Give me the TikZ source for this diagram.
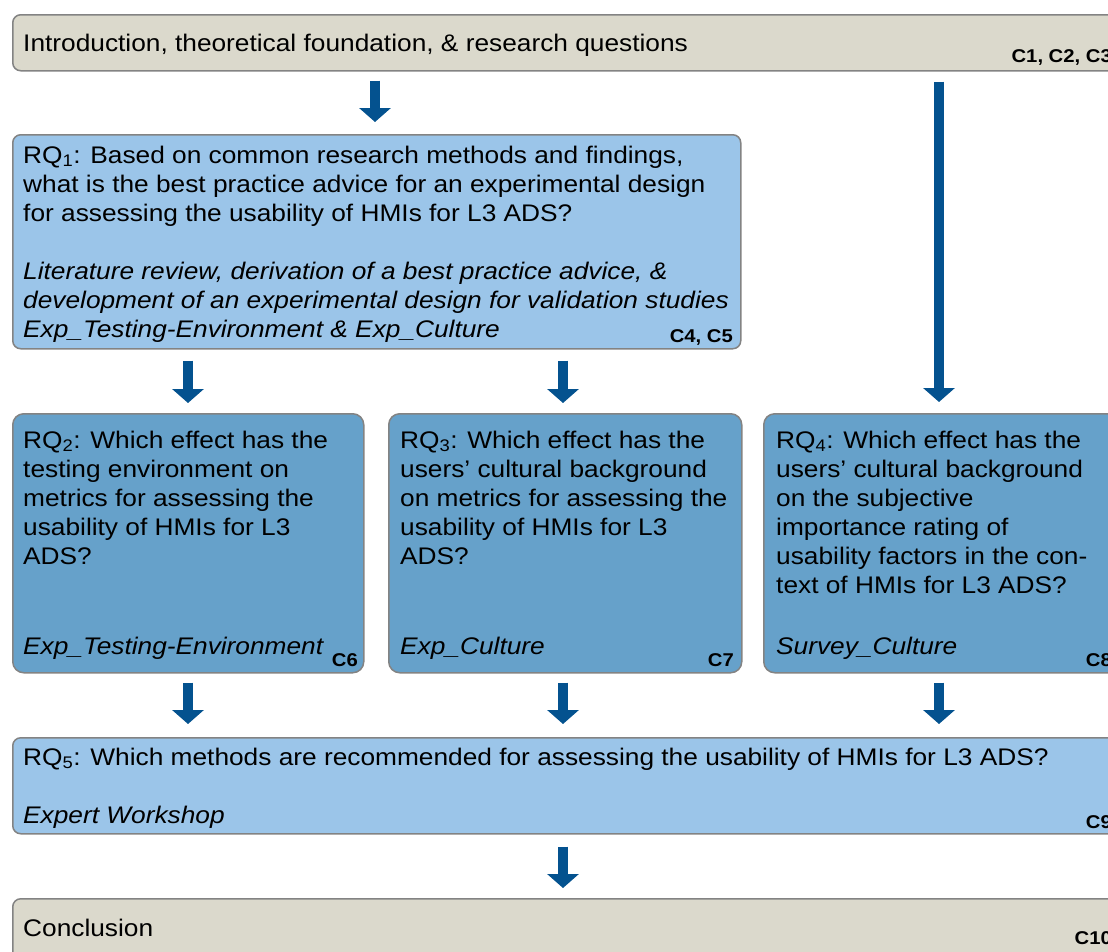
\documentclass[tikz,border=0pt]{standalone}
\usepackage{fontspec}
\setmainfont{Liberation Sans}[FakeStretch=1.095]
\usetikzlibrary{arrows.meta}
\definecolor{beige}{HTML}{DBD9CC}
\definecolor{lblue}{HTML}{9BC5E9}
\definecolor{dblue}{HTML}{66A1CA}
\definecolor{arrowblue}{HTML}{04528F}
\definecolor{edgegray}{HTML}{838383}
\newcommand\bodyfont{\fontsize{24}{29}\selectfont}
\newcommand\clabfont{\fontsize{18.5}{20}\selectfont\bfseries}
\newcommand\mylines[1]{\begin{tabular}[t]{@{}l@{}}#1\end{tabular}}
\tikzset{
  box/.style={draw=edgegray, line width=1.5pt, rounded corners=8pt, anchor=north west, inner sep=0pt},
  introbox/.style={box, fill=beige},
  lightbox/.style={box, fill=lblue},
  darkbox/.style={box, fill=dblue, rounded corners=11pt},
  txt/.style={anchor=base west, inner sep=0pt, font=\bodyfont},
  clab/.style={anchor=base east, inner sep=0pt, font=\clabfont},
  bigarrow/.style={draw=arrowblue, line width=10.5pt, line cap=butt, -{Triangle[width=31pt,length=14pt]}}
}
\begin{document}
\begin{tikzpicture}[x=1pt,y=-1pt]
\clip (0,0) rectangle (1108,951);
\fill[white] (0,0) rectangle (1108,951);

% boxes
\node[introbox, minimum width=1108pt, minimum height=56pt] (intro) at (12,14) {};
\node[lightbox, minimum width=728pt, minimum height=214pt] (rq1) at (12,134) {};
\node[darkbox, minimum width=351pt, minimum height=259pt] (rq2) at (12,413) {};
\node[darkbox, minimum width=353pt, minimum height=259pt] (rq3) at (388,413) {};
\node[darkbox, minimum width=360pt, minimum height=259pt] (rq4) at (763,413) {};
\node[lightbox, minimum width=1108pt, minimum height=96pt] (rq5) at (12,737) {};
\node[introbox, minimum width=1108pt, minimum height=80pt] (concl) at (12,898) {};

% texts
\node[txt] (introt) at (23,51) {Introduction, theoretical foundation, \& research questions};
\node[clab] (introc) at (1112,62) {C1, C2, C3};

\node[txt] (rq1t) at (23,163) {\mylines{%
RQ\textsubscript{1}: Based on common research methods and findings,\\
what is the best practice advice for an experimental design\\
for assessing the usability of HMIs for L3 ADS?\\
\\
\textit{Literature review, derivation of a best practice advice, \&}\\
\textit{development of an experimental design for validation studies}\\
\textit{Exp\_Testing-Environment \& Exp\_Culture}}};
\node[clab] (rq1c) at (733,342) {C4, C5};

\node[txt] (rq2t) at (23,448) {\mylines{%
RQ\textsubscript{2}: Which effect has the\\
testing environment on\\
metrics for assessing the\\
usability of HMIs for L3\\
ADS?}};
\node[txt] (rq2i) at (23,654) {\textit{Exp\_Testing-Environment}};
\node[clab] (rq2c) at (358,666) {C6};

\node[txt] (rq3t) at (400,448) {\mylines{%
RQ\textsubscript{3}: Which effect has the\\
users’ cultural background\\
on metrics for assessing the\\
usability of HMIs for L3\\
ADS?}};
\node[txt] (rq3i) at (400,654) {\textit{Exp\_Culture}};
\node[clab] (rq3c) at (734,666) {C7};

\node[txt] (rq4t) at (776,448) {\mylines{%
RQ\textsubscript{4}: Which effect has the\\
users’ cultural background\\
on the subjective\\
importance rating of\\
usability factors in the con-\\
text of HMIs for L3 ADS?}};
\node[txt] (rq4i) at (776,654) {\textit{Survey\_Culture}};
\node[clab] (rq4c) at (1112,666) {C8};

\node[txt] (rq5t) at (23,765) {RQ\textsubscript{5}: Which methods are recommended for assessing the usability of HMIs for L3 ADS?};
\node[txt] (rq5i) at (23,823) {\textit{Expert Workshop}};
\node[clab] (rq5c) at (1112,828) {C9};

\node[txt] (conclt) at (23,936) {Conclusion};
\node[clab] (conclc) at (1112,944) {C10};

% arrow columns
\coordinate (xa) at (375,0);
\coordinate (xl) at (188,0);
\coordinate (xm) at (563,0);
\coordinate (xr) at (939,0);

% arrows
\draw[bigarrow, shorten <=9pt, shorten >=12pt] (intro.south -| xa) -- (rq1.north -| xa);
\draw[bigarrow, shorten <=10pt, shorten >=11pt] (intro.south -| xr) -- (rq4.north -| xr);
\draw[bigarrow, shorten <=11pt, shorten >=10pt] (rq1.south -| xl) -- (rq2.north -| xl);
\draw[bigarrow, shorten <=11pt, shorten >=10pt] (rq1.south -| xm) -- (rq3.north -| xm);
\draw[bigarrow, shorten <=9pt, shorten >=13pt] (rq2.south -| xl) -- (rq5.north -| xl);
\draw[bigarrow, shorten <=9pt, shorten >=13pt] (rq3.south -| xm) -- (rq5.north -| xm);
\draw[bigarrow, shorten <=9pt, shorten >=13pt] (rq4.south -| xr) -- (rq5.north -| xr);
\draw[bigarrow, shorten <=12pt, shorten >=10pt] (rq5.south -| xm) -- (concl.north -| xm);
\end{tikzpicture}
\end{document}
